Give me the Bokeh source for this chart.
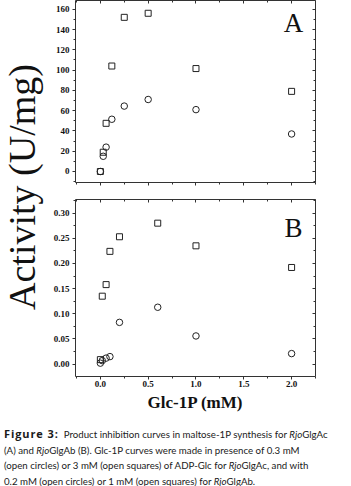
import math
from bokeh.plotting import figure
from bokeh.models import (Range1d, LinearAxis, SingleIntervalTicker, NumeralTickFormatter,
                          CustomJSTickFormatter, Label, Div)
from bokeh.layouts import column, row
from bokeh.embed import file_html
from bokeh.resources import INLINE

# ---------------- data ----------------
glc1p_a = [0, 0.03, 0.06, 0.12, 0.25, 0.5, 1.0, 2.0]
a_squares = [0, 19, 47.5, 104, 152, 156, 101.5, 79]
a_circles = [0, 15, 24, 51.5, 64.5, 71, 61, 37]

glc1p_b = [0, 0.02, 0.06, 0.1, 0.2, 0.6, 1.0, 2.0]
b_squares = [0.009, 0.135, 0.158, 0.224, 0.253, 0.280, 0.235, 0.192]
b_circles = [0.002, 0.007, 0.012, 0.015, 0.083, 0.113, 0.056, 0.021]

y_label = "Activity (U/mg)"
x_label = "Glc-1P (mM)"
panel_a = "A"
panel_b = "B"

caption_html = (
    "<b style=\"font-family:'Open Sans';font-size:11px;letter-spacing:0.9px\">Figure 3:</b>&nbsp;&nbsp;"
    "Product inhibition curves in maltose-1P synthesis for <i>Rjo</i>GlgAc<br>"
    "(A) and <i>Rjo</i>GlgAb (B). Glc-1P curves were made in presence of 0.3 mM<br>"
    "(open circles) or 3 mM (open squares) of ADP-Glc for <i>Rjo</i>GlgAc, and with<br>"
    "0.2 mM (open circles) or 1 mM (open squares) for <i>Rjo</i>GlgAb."
)

SERIF = "Liberation Serif"
INK = "#222222"
AXC = "#333333"

LABW = 50  # width of the strip holding the shared y-axis title


def style_axis(ax, interval, fmt, side):
    ax.ticker = SingleIntervalTicker(interval=interval, num_minor_ticks=2)
    ax.axis_line_color = AXC
    ax.major_tick_line_color = AXC
    ax.minor_tick_line_color = AXC
    ax.axis_line_width = 1
    if side in ("left", "below"):
        ax.major_tick_out = 3
        ax.major_tick_in = 0
        ax.minor_tick_out = 2
        ax.minor_tick_in = 0
    else:
        ax.major_tick_out = 0
        ax.major_tick_in = 3
        ax.minor_tick_out = 0
        ax.minor_tick_in = 2
    if fmt is None:
        ax.formatter = CustomJSTickFormatter(code="return '';")
        ax.major_label_standoff = 0
        ax.major_label_text_font_size = "9px"
    else:
        ax.formatter = NumeralTickFormatter(format=fmt)
        ax.major_label_text_font = SERIF
        ax.major_label_text_font_style = "bold"
        ax.major_label_text_font_size = "9px"
        ax.major_label_text_color = "#111111"


def make_panel(xs, sq, ci, yr, yint, yfmt, height, top, bottom, letter, lx, ly, show_xlabels):
    p = figure(width=351 - LABW, height=height, x_range=Range1d(-0.26, 2.25), y_range=Range1d(*yr),
               output_backend="svg", toolbar_location=None,
               min_border_left=74 - LABW, min_border_right=36, min_border_top=top,
               min_border_bottom=bottom, x_axis_type=None, y_axis_type=None)
    p.grid.visible = False
    p.outline_line_color = None
    p.background_fill_color = "white"
    p.border_fill_color = "white"

    left = LinearAxis()
    style_axis(left, yint, yfmt, "left")
    left.major_label_standoff = 3
    p.add_layout(left, "left")

    right = LinearAxis()
    style_axis(right, yint, None, "right")
    p.add_layout(right, "right")

    top_ax = LinearAxis()
    style_axis(top_ax, 0.5, None, "above")
    p.add_layout(top_ax, "above")

    bot = LinearAxis()
    if show_xlabels:
        style_axis(bot, 0.5, "0.0", "below")
        bot.major_label_standoff = 1
        bot.axis_label = x_label
        bot.axis_label_text_font = SERIF
        bot.axis_label_text_font_style = "bold"
        bot.axis_label_text_font_size = "17px"
        bot.axis_label_text_color = "#111111"
        bot.axis_label_standoff = 3
    else:
        style_axis(bot, 0.5, None, "below")
    p.add_layout(bot, "below")

    p.scatter(xs, sq, marker="square", size=6, fill_color=None, line_color=INK, line_width=1)
    p.scatter(xs, ci, marker="circle", size=6.5, fill_color=None, line_color=INK, line_width=1)

    p.add_layout(Label(x=lx, y=ly, text=letter, text_font=SERIF, text_font_size="27px",
                       text_align="center", text_baseline="middle", text_color="#111111"))
    return p


pA = make_panel(glc1p_a, a_squares, a_circles, (-10.85, 168.6), 20, "0", 190, 0, 8,
                panel_a, 2.02, 146, False)
pB = make_panel(glc1p_b, b_squares, b_circles, (-0.0245, 0.327), 0.05, "0.00", 225, 9, 39,
                panel_b, 2.02, 0.271, True)

# y-axis title spanning both panels
lab = figure(width=LABW, height=415, x_range=Range1d(0, LABW), y_range=Range1d(0, 415),
             output_backend="svg", toolbar_location=None, min_border=0,
             x_axis_type=None, y_axis_type=None)
lab.grid.visible = False
lab.outline_line_color = None
lab.add_layout(Label(x=21, y=415 - 186.5, text=y_label, angle=math.pi / 2,
                     text_font=SERIF, text_font_size="38px", text_align="center",
                     text_baseline="middle", text_color="#111111"))

cap = Div(text=('<div style="font-family:Lato;font-size:9.7px;line-height:15.7px;'
                'padding:11px 0 0 4px;white-space:nowrap;color:#1a1a1a">' + caption_html + '</div>'),
          width=351, height=71, margin=(0, 0, 0, 0))

layout = column(row(lab, column(pA, pB, spacing=0), spacing=0), cap, spacing=0)

open("out.html", "w").write(file_html(layout, INLINE))
